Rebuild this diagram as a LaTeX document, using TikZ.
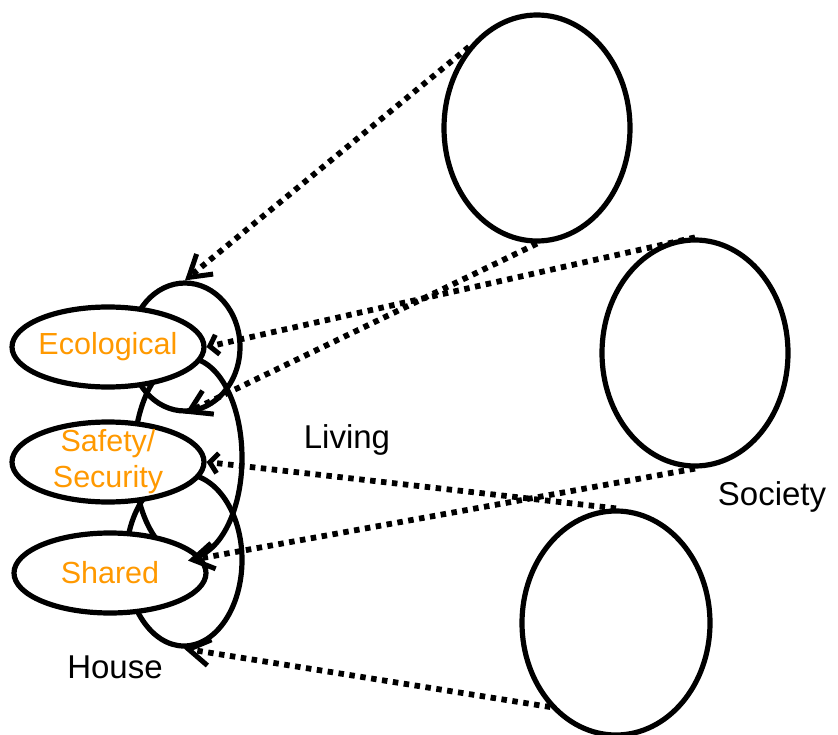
\documentclass[tikz,border=0pt]{standalone}
\usepackage{fontspec}
\setmainfont{Liberation Sans}
\usepackage{tikz}
\usetikzlibrary{arrows.meta, positioning, shapes.geometric}
\definecolor{myorange}{RGB}{255,153,0}

\begin{document}
\begin{tikzpicture}[x=1pt,y=-1pt,line width=5.2pt,every node/.style={inner sep=0pt},
    ring/.style={draw,ellipse,fill=white,minimum width=192pt,minimum height=80pt},
    bigring/.style={draw,ellipse,minimum width=186pt,minimum height=226pt},
    loopring/.style={draw,ellipse},
    tag/.style={text=myorange,align=center,font=\fontsize{30.5}{36}\selectfont},
    caption/.style={font=\fontsize{33}{40}\selectfont},
    dotlink/.style={line width=5.8pt,dash pattern=on 5.5pt off 5.5pt,-{Straight Barb[length=21pt,width=26pt,line width=5pt]}},
    dotlinkshort/.style={line width=5.8pt,dash pattern=on 5.5pt off 5.5pt,-{Straight Barb[length=8pt,width=20pt,line width=5pt]}}]
    \useasboundingbox (0,0) rectangle (838,735);
    % loops behind the small rings
    \node[loopring,minimum width=110pt,minimum height=128pt] (loopEco) at (185,347) {};
    \node[loopring,minimum width=108pt,minimum height=200pt] (loopSafe) at (188,458) {};
    \node[loopring,minimum width=116pt,minimum height=172pt] (loopShared) at (184,560) {};
    % small rings
    \node[ring] (ecoN) at (108,347) {};
    \node[ring] (safeN) at (108,462) {};
    \node[ring] (sharedN) at (110,573) {};
    \node[tag] (ecoT) at (ecoN) {Ecological};
    \node[tag] (safeT) at (safeN) {Safety/\\Security};
    \node[tag] (sharedT) at (sharedN) {Shared};
    % big rings
    \node[bigring] (outerA) at (537,128) {};
    \node[bigring] (outerB) at (695,353) {};
    \node[bigring,minimum width=188pt,minimum height=224pt] (outerC) at (616,623) {};
    \node[caption] (livingL) at (347,440) {Living};
    \node[caption] (societyL) at (772,497) {Society};
    \node[caption,below=38pt of sharedN,xshift=5pt] (houseL) {House};
    \foreach \a/\b in {outerA.130/loopEco.north,outerA.south/loopEco.south,outerB.south/loopSafe.south,outerC.232/loopShared.south} {
        \draw[dotlink] (\a) -- (\b);
    }
    \foreach \a/\b in {outerB.north/ecoN.east,outerC.north/safeN.east} {
        \draw[dotlinkshort] (\a) -- (\b);
    }
\end{tikzpicture}
\end{document}
